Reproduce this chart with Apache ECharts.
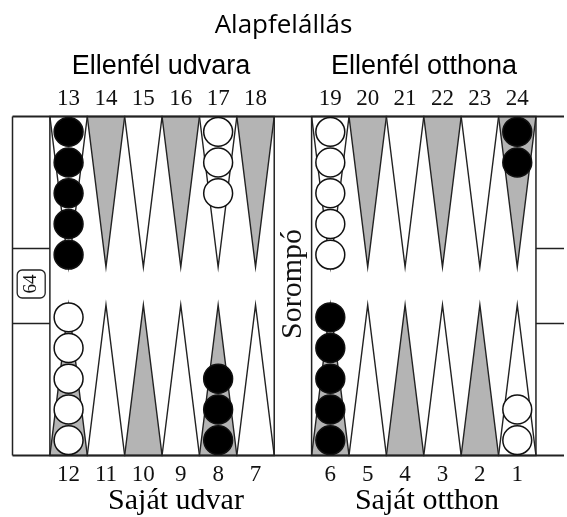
<!DOCTYPE html>
<html>
<head>
<meta charset="utf-8">
<script src="https://cdn.jsdelivr.net/npm/echarts@6/dist/echarts.min.js"></script>
<style>
html,body{margin:0;padding:0;background:#fff;}
#chart{width:567px;height:517px;}
</style>
</head>
<body>
<div id="chart"></div>
<script>
// ---- data ----
const titleText = 'Alapfelállás';
const quadrantTop = ['Ellenfél udvara', 'Ellenfél otthona'];
const quadrantBottom = ['Saját udvar', 'Saját otthon'];
const barLabel = 'Sorompó';
const cubeValue = '64';
const topPoints = [13, 14, 15, 16, 17, 18, 19, 20, 21, 22, 23, 24];
const bottomPoints = [12, 11, 10, 9, 8, 7, 6, 5, 4, 3, 2, 1];
const checkerPoints = [13, 17, 19, 24, 12, 8, 6, 1];
const checkerCounts = [5, 3, 5, 2, 5, 3, 5, 2];
const checkerSides = ['black', 'white', 'white', 'black', 'white', 'black', 'black', 'white'];

// ---- layout helpers ----
const BOARD_H = 339;      // y-axis units (board height)
const TRI_H = 150.5;      // triangle height
const STEP = 30.7;        // checker stacking step
function columnOf(p) {
  let i = topPoints.indexOf(p), top = true;
  if (i < 0) { i = bottomPoints.indexOf(p); top = false; }
  return { col: i >= 6 ? i + 1 : i, top: top };
}
function labelFor(list) {
  return function (v) {
    const c = Math.round(v * 2) / 2;
    if (!Number.isInteger(c) || c < 0 || c > 12 || c === 6) return '';
    return String(list[c > 6 ? c - 1 : c]);
  };
}

const triangleData = [];
topPoints.forEach(p => { const c = columnOf(p); triangleData.push([c.col, 1, p % 2 === 0 ? 1 : 0]); });
bottomPoints.forEach(p => { const c = columnOf(p); triangleData.push([c.col, 0, p % 2 === 0 ? 1 : 0]); });

const checkerData = [];
checkerPoints.forEach((p, k) => {
  const c = columnOf(p);
  for (let i = 0; i < checkerCounts[k]; i++) {
    checkerData.push([c.col, c.top ? 1 : 0, i, checkerSides[k] === 'black' ? 1 : 0]);
  }
});

const LINE = '#222';
const GRAY = '#b4b4b4';

const chart = echarts.init(document.getElementById('chart'), null, { renderer: 'canvas' });
const option = {
  backgroundColor: '#fff',
  animation: false,
  grid: { left: 12.5, right: 0, top: 116.5, bottom: 61.5 },
  xAxis: [
    {
      type: 'value', min: -1.5, max: 13.25, interval: 0.5, position: 'bottom',
      axisLine: { show: false }, axisTick: { show: false }, splitLine: { show: false },
      axisLabel: {
        formatter: labelFor(bottomPoints), margin: 8, showMinLabel: true, showMaxLabel: true,
        fontFamily: 'Liberation Serif', fontSize: 23, color: '#111'
      }
    },
    {
      type: 'value', min: -1.5, max: 13.25, interval: 0.5, position: 'top',
      axisLine: { show: false }, axisTick: { show: false }, splitLine: { show: false },
      axisLabel: {
        formatter: labelFor(topPoints), margin: 6, showMinLabel: true, showMaxLabel: true,
        fontFamily: 'Liberation Serif', fontSize: 23, color: '#111'
      }
    }
  ],
  yAxis: { type: 'value', min: 0, max: BOARD_H, show: false },
  graphic: [
    { type: 'text', x: 283.5, y: 26, style: { text: titleText, font: '26px "Open Sans"', fill: '#000', textAlign: 'center', textVerticalAlign: 'middle' } },
    { type: 'text', x: 161, y: 67, style: { text: quadrantTop[0], font: '27px "Liberation Sans"', fill: '#000', textAlign: 'center', textVerticalAlign: 'middle' } },
    { type: 'text', x: 424, y: 67, style: { text: quadrantTop[1], font: '27px "Liberation Sans"', fill: '#000', textAlign: 'center', textVerticalAlign: 'middle' } },
    { type: 'text', x: 176, y: 501, style: { text: quadrantBottom[0], font: '30px "Liberation Serif"', fill: '#000', textAlign: 'center', textVerticalAlign: 'middle' } },
    { type: 'text', x: 427, y: 501, style: { text: quadrantBottom[1], font: '30px "Liberation Serif"', fill: '#000', textAlign: 'center', textVerticalAlign: 'middle' } }
  ],
  series: [
    {
      type: 'custom', xAxisIndex: 0, yAxisIndex: 0, silent: true,
      data: triangleData,
      renderItem: function (params, api) {
        const c = api.value(0), top = api.value(1) === 1, gray = api.value(2) === 1;
        const base = top ? BOARD_H : 0;
        const tip = top ? BOARD_H - TRI_H : TRI_H;
        const a = api.coord([c - 0.5, base]), b = api.coord([c + 0.5, base]), t = api.coord([c, tip]);
        return {
          type: 'polygon',
          shape: { points: [a, b, t] },
          style: { fill: gray ? GRAY : '#fff', stroke: LINE, lineWidth: 1.4, lineJoin: 'miter' }
        };
      }
    },
    {
      type: 'custom', xAxisIndex: 0, yAxisIndex: 0, silent: true,
      data: [[0]],
      renderItem: function (params, api) {
        const X = v => api.coord([v, 0])[0];
        const Y = v => api.coord([0, v])[1];
        const seg = (x1, y1, x2, y2, w) => ({
          type: 'line', shape: { x1: X(x1), y1: Y(y1), x2: X(x2), y2: Y(y2) },
          style: { stroke: LINE, lineWidth: w || 1.5 }
        });
        const mid = BOARD_H / 2;
        const children = [
          seg(-1.5, BOARD_H, 13.25, BOARD_H, 2),
          seg(-1.5, 0, 13.25, 0, 2),
          seg(-1.5, 0, -1.5, BOARD_H),
          seg(-0.5, 0, -0.5, BOARD_H),
          seg(5.5, 0, 5.5, BOARD_H),
          seg(6.5, 0, 6.5, BOARD_H),
          seg(12.5, 0, 12.5, BOARD_H),
          seg(-1.5, mid + 37.5, -0.5, mid + 37.5),
          seg(-1.5, mid - 37.5, -0.5, mid - 37.5),
          seg(12.5, mid + 37.5, 13.25, mid + 37.5),
          seg(12.5, mid - 37.5, 13.25, mid - 37.5)
        ];
        const cube = api.coord([-1, mid + 2]);
        children.push({
          type: 'rect', shape: { x: cube[0] - 14, y: cube[1] - 14, width: 28, height: 28, r: 5 },
          style: { fill: '#fff', stroke: LINE, lineWidth: 1.3 }
        });
        children.push({
          type: 'text', x: cube[0], y: cube[1], rotation: Math.PI / 2,
          style: { text: cubeValue, font: '19px "Liberation Serif"', fill: '#111', textAlign: 'center', textVerticalAlign: 'middle' }
        });
        const bar = api.coord([6, mid + 2]);
        children.push({
          type: 'text', x: bar[0], y: bar[1], rotation: Math.PI / 2,
          style: { text: barLabel, font: '30px "Liberation Serif"', fill: '#111', textAlign: 'center', textVerticalAlign: 'middle' }
        });
        return { type: 'group', children: children };
      }
    },
    {
      type: 'custom', xAxisIndex: 0, yAxisIndex: 0, silent: true,
      data: checkerData,
      renderItem: function (params, api) {
        const c = api.value(0), top = api.value(1) === 1, i = api.value(2), black = api.value(3) === 1;
        const yv = top ? BOARD_H - (STEP / 2 + i * STEP) : (STEP / 2 + i * STEP);
        const p = api.coord([c, yv]);
        const r = api.size([0, STEP])[1] / 2 - 0.9;
        return {
          type: 'circle', shape: { cx: p[0], cy: p[1], r: r },
          style: { fill: black ? '#000' : '#fff', stroke: '#111', lineWidth: 1.5 }
        };
      }
    }
  ]
};
chart.setOption(option);
</script>
</body>
</html>
